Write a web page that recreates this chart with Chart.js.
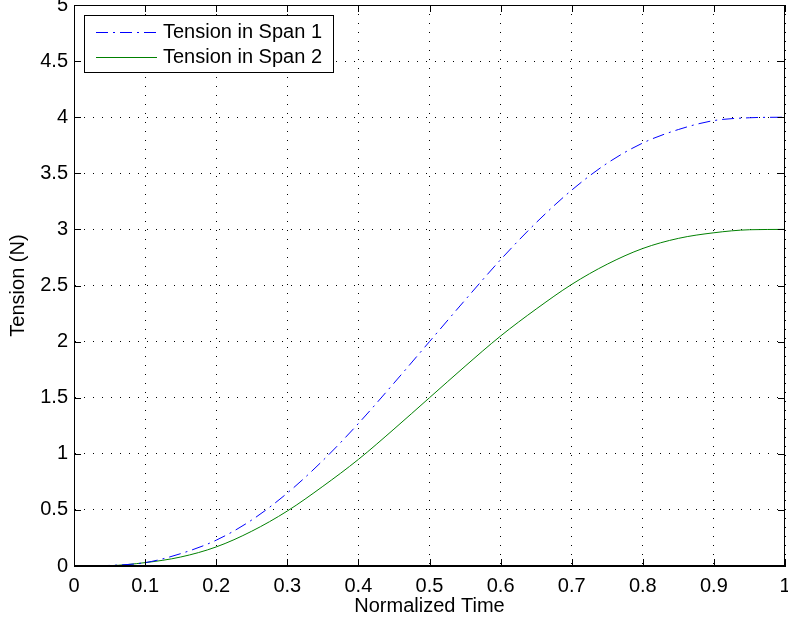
<!DOCTYPE html>
<html>
<head>
<meta charset="utf-8">
<script src="https://cdn.jsdelivr.net/npm/chart.js@4.4.1/dist/chart.umd.min.js"></script>
<style>
  html, body { margin: 0; padding: 0; background: #fff; }
</style>
</head>
<body>
<canvas id="tensionChart" width="788" height="624"></canvas>
<script>
// normalized time samples and tensions
var timeValues = [0, 0.05, 0.1, 0.15, 0.2, 0.25, 0.3, 0.35, 0.4, 0.45, 0.5,
	0.55, 0.6, 0.65, 0.7, 0.75, 0.8, 0.85, 0.9, 0.95, 1];
var span1Tension = [0, 0.005, 0.03, 0.11, 0.23, 0.41, 0.65, 0.94, 1.27, 1.63, 2.0,
	2.37, 2.73, 3.06, 3.35, 3.59, 3.77, 3.89, 3.97, 3.995, 4];
var span2Tension = [0, 0.003, 0.03, 0.08, 0.17, 0.31, 0.49, 0.71, 0.95, 1.22, 1.5,
	1.78, 2.05, 2.29, 2.51, 2.69, 2.83, 2.92, 2.97, 2.997, 3];
var seriesLabels = ['Tension in Span 1', 'Tension in Span 2'];

var FONT = 'Liberation Sans, Arial, Helvetica, sans-serif';
var FSIZE = 20;

function toPoints(values) {
	return values.map(function(v, i) { return {x: timeValues[i], y: v}; });
}

// matlab style box + inward tick marks
var boxTicks = {
	id: 'boxTicks',
	afterDraw: function(chart) {
		var ctx = chart.ctx, a = chart.chartArea;
		var xs = chart.scales.x, ys = chart.scales.y;
		var len = 7;
		ctx.save();
		ctx.strokeStyle = '#000';
		ctx.lineWidth = 1;
		ctx.beginPath();
		xs.ticks.forEach(function(t) {
			var px = Math.round(xs.getPixelForValue(t.value)) + 0.5;
			ctx.moveTo(px, a.bottom); ctx.lineTo(px, a.bottom - len);
			ctx.moveTo(px, a.top); ctx.lineTo(px, a.top + len);
		});
		ys.ticks.forEach(function(t) {
			var py = Math.round(ys.getPixelForValue(t.value)) + 0.5;
			ctx.moveTo(a.left, py); ctx.lineTo(a.left + len, py);
			ctx.moveTo(a.right, py); ctx.lineTo(a.right - len, py);
		});
		ctx.stroke();
		ctx.strokeRect(Math.round(a.left) + 0.5, Math.round(a.top) + 0.5,
			Math.round(a.right - a.left) - 1, Math.round(a.bottom - a.top) - 1);
		ctx.restore();
	}
};

// legend box inside the upper left corner of the plot
var insideLegend = {
	id: 'insideLegend',
	afterDraw: function(chart) {
		var ctx = chart.ctx, a = chart.chartArea;
		var x0 = a.left + 10, y0 = a.top + 10, w = 249, h = 57;
		ctx.save();
		ctx.fillStyle = '#fff';
		ctx.fillRect(x0, y0, w, h);
		ctx.strokeStyle = '#000';
		ctx.lineWidth = 1;
		ctx.strokeRect(x0 + 0.5, y0 + 0.5, w, h);
		ctx.font = FSIZE + 'px ' + FONT;
		ctx.textBaseline = 'middle';
		chart.data.datasets.forEach(function(ds, i) {
			var ry = y0 + 17 + i * 25;
			ctx.strokeStyle = ds.borderColor;
			ctx.setLineDash(ds.borderDash || []);
			ctx.beginPath();
			ctx.moveTo(x0 + 12, ry + 0.5);
			ctx.lineTo(x0 + 73, ry + 0.5);
			ctx.stroke();
			ctx.setLineDash([]);
			ctx.fillStyle = '#000';
			ctx.fillText(ds.label, x0 + 79, ry);
		});
		ctx.restore();
	}
};

var config = {
	type: 'line',
	data: {
		datasets: [{
			label: seriesLabels[0],
			data: toPoints(span1Tension),
			borderColor: '#0000ff',
			borderWidth: 1,
			borderDash: [12, 5, 2, 5],
			pointRadius: 0,
			cubicInterpolationMode: 'monotone',
			fill: false
		}, {
			label: seriesLabels[1],
			data: toPoints(span2Tension),
			borderColor: '#008000',
			borderWidth: 1,
			pointRadius: 0,
			cubicInterpolationMode: 'monotone',
			fill: false
		}]
	},
	plugins: [boxTicks, insideLegend],
	options: {
		responsive: false,
		animation: false,
		layout: {
			padding: {top: 5, right: 3, bottom: 0, left: 0}
		},
		plugins: {
			legend: {display: false},
			tooltip: {enabled: false}
		},
		scales: {
			x: {
				type: 'linear',
				min: 0,
				max: 1,
				ticks: {
					stepSize: 0.1,
					padding: 8,
					color: '#000',
					font: {family: FONT, size: FSIZE},
					maxRotation: 0,
					callback: function(v) { return String(+v.toFixed(2)); }
				},
				grid: {color: '#000', lineWidth: 1, drawTicks: false},
				border: {display: true, color: '#000', dash: [1, 8]},
				title: {
					display: true,
					text: 'Normalized Time',
					color: '#000',
					font: {family: FONT, size: FSIZE},
					padding: {top: 0, bottom: 6}
				},
				afterFit: function(scale) {
					scale.height = 58;
					scale.paddingLeft = 0;
					scale.paddingRight = 0;
				}
			},
			y: {
				min: 0,
				max: 5,
				ticks: {
					stepSize: 0.5,
					padding: 6,
					color: '#000',
					font: {family: FONT, size: FSIZE},
					callback: function(v) { return String(+v.toFixed(2)); }
				},
				grid: {color: '#000', lineWidth: 1, drawTicks: false},
				border: {display: true, color: '#000', dash: [1, 8]},
				title: {
					display: true,
					text: 'Tension (N)',
					color: '#000',
					font: {family: FONT, size: FSIZE},
					padding: {top: 6, bottom: 0}
				},
				afterFit: function(scale) {
					scale.width = 74;
					scale.paddingTop = 0;
					scale.paddingBottom = 0;
				}
			}
		}
	}
};

window.onload = function() {
	var ctx = document.getElementById('tensionChart').getContext('2d');
	window.tensionChart = new Chart(ctx, config);
};
</script>
</body>
</html>
